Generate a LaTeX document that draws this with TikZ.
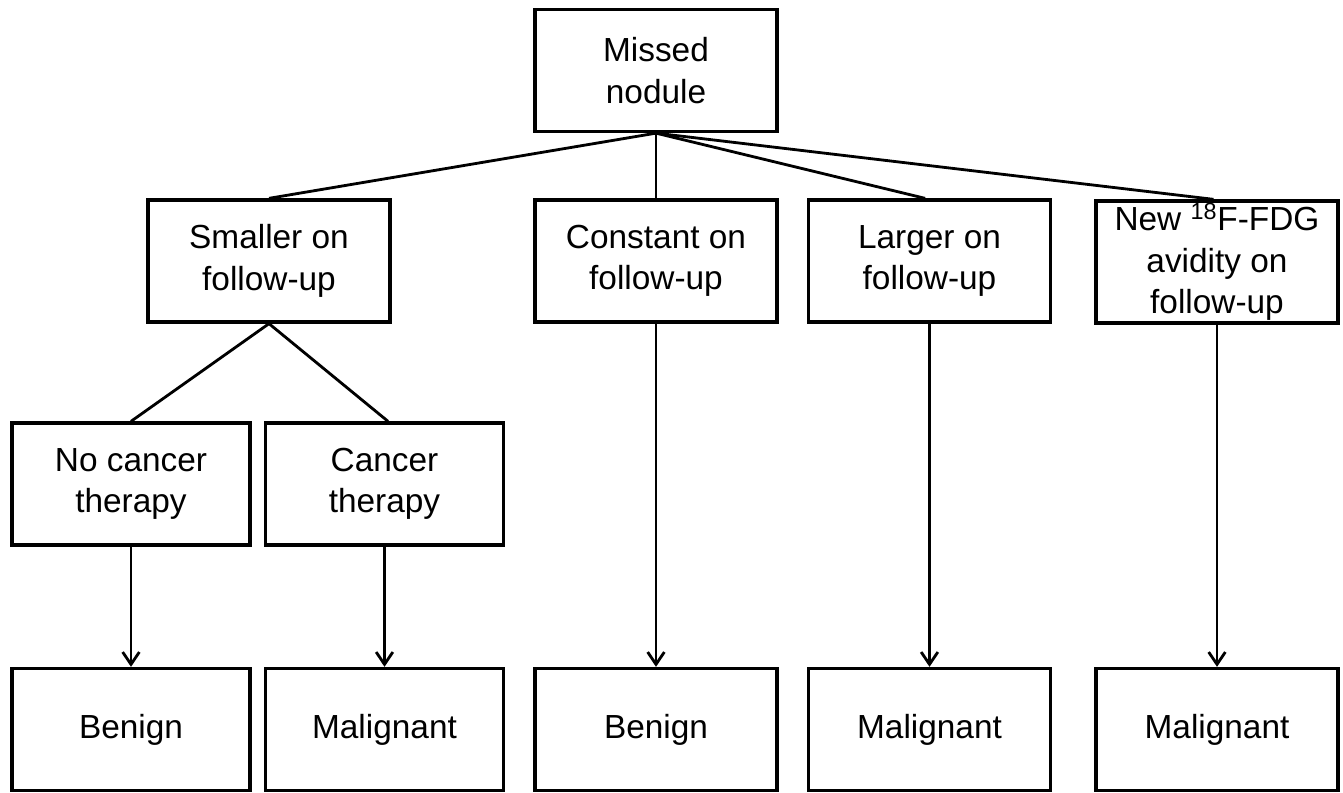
\documentclass[tikz,border=0pt]{standalone}
\usepackage{fontspec}
\setmainfont{Liberation Sans}
\usetikzlibrary{arrows.meta}
\tikzset{
  box/.style={draw=black, line width=1.9pt, fill=white, inner sep=0pt,
    minimum height=2.44cm, align=center, font=\fontsize{19}{23.5}\selectfont},
  wA/.style={minimum width=4.76cm},
  wB/.style={minimum width=4.84cm},
  conn/.style={draw=black, line width=1.6pt},
  arr/.style={conn, -{Straight Barb[length=7pt,width=9.5pt]}}
}
\begin{document}
\begin{tikzpicture}[x=0.02cm,y=-0.02cm]
\useasboundingbox[fill=white] (0,0) rectangle (1343,793);
% top
\node[box,wB] (miss) at (656,70.5) {Missed\\nodule};
% row 2
\node[box,wB] (small) at (269,261) {Smaller on\\follow-up};
\node[box,wB] (const) at (656,261) {Constant on\\follow-up};
\node[box,wB] (larger) at (929.5,261) {Larger on\\follow-up};
\node[box,wB] (newfdg) at (1217,262) {New \textsuperscript{18}F-FDG\\avidity on\\follow-up};
% row 3
\node[box,wA] (nocan) at (131,484) {No cancer\\therapy};
\node[box,wA] (can) at (384.5,484) {Cancer\\therapy};
% row 4
\node[box,wA] (ben1) at (131,729.5) {Benign};
\node[box,wA] (mal1) at (384.5,729.5) {Malignant};
\node[box,wB] (ben2) at (656,729.5) {Benign};
\node[box,wB] (mal2) at (929.5,729.5) {Malignant};
\node[box,wB] (mal3) at (1217,729.5) {Malignant};
% connectors
\draw[conn] (miss.south) -- (small.north);
\draw[conn] (miss.south) -- (const.north);
\draw[conn] (miss.south) -- ([xshift=-2.5pt]larger.north);
\draw[conn] (miss.south) -- ([xshift=-2pt]newfdg.north);
\draw[conn] (small.south) -- (nocan.north);
\draw[conn] (small.south) -- ([xshift=2pt]can.north);
\draw[arr] (nocan.south) -- (ben1.north);
\draw[arr] (can.south) -- (mal1.north);
\draw[arr] (const.south) -- (ben2.north);
\draw[arr] (larger.south) -- (mal2.north);
\draw[arr] (newfdg.south) -- (mal3.north);
\end{tikzpicture}
\end{document}
